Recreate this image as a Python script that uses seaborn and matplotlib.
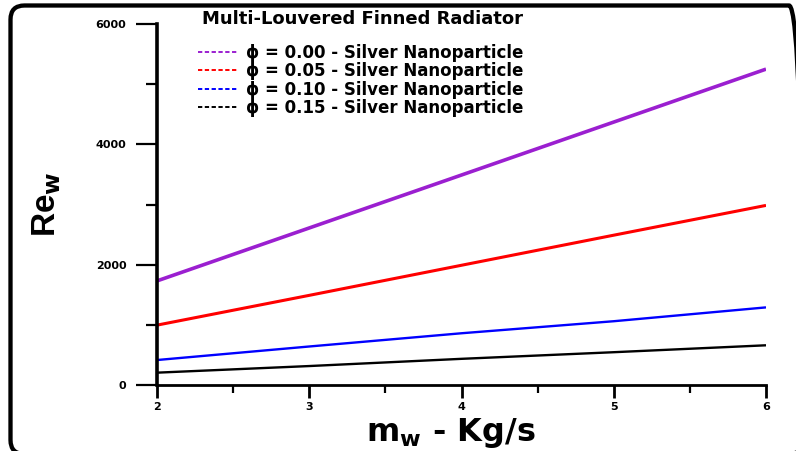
import numpy as np
import pandas as pd
import matplotlib
matplotlib.use("Agg")
import matplotlib.pyplot as plt
import seaborn as sns
from matplotlib.patches import FancyBboxPatch
from matplotlib.ticker import MultipleLocator
from matplotlib.lines import Line2D
from matplotlib.transforms import IdentityTransform

# ---- data ----
mass_flow = [2, 3, 4, 5, 6]
re_phi_000 = [1730, 2610, 3490, 4370, 5250]
re_phi_005 = [995, 1490, 1990, 2490, 2985]
re_phi_010 = [415, 640, 860, 1060, 1290]
re_phi_015 = [205, 315, 435, 545, 660]
series_labels = [
    "\u03d5 = 0.00 - Silver Nanoparticle",
    "\u03d5 = 0.05 - Silver Nanoparticle",
    "\u03d5 = 0.10 - Silver Nanoparticle",
    "\u03d5 = 0.15 - Silver Nanoparticle",
]
series_colors = ["#9b1fd0", "#ff0000", "#0000ff", "#000000"]
line_widths = [2.6, 2.2, 1.7, 1.7]
title_text = "Multi-Louvered Finned Radiator"

df = pd.concat([
    pd.DataFrame({"m": mass_flow, "Re": vals, "series": lab})
    for vals, lab in zip([re_phi_000, re_phi_005, re_phi_010, re_phi_015], series_labels)
])

sns.set_theme(style="white")
plt.rcParams["font.family"] = ["DejaVu Sans"]
plt.rcParams["font.weight"] = "bold"
plt.rcParams["text.color"] = "black"
plt.rcParams["axes.labelcolor"] = "black"
plt.rcParams["xtick.color"] = "black"
plt.rcParams["ytick.color"] = "black"
plt.rcParams["mathtext.fontset"] = "custom"
plt.rcParams["mathtext.rm"] = "DejaVu Sans:bold"
plt.rcParams["mathtext.bf"] = "DejaVu Sans:bold"
plt.rcParams["mathtext.it"] = "DejaVu Sans:bold"

W, H = 796, 451
fig = plt.figure(figsize=(W / 100, H / 100), dpi=100)
ax = fig.add_axes([157 / W, 1 - 385 / H, (766 - 157) / W, (385 - 24) / H])

sns.lineplot(data=df, x="m", y="Re", hue="series", palette=series_colors,
             ax=ax, legend=False, sort=False)
for ln, lw in zip(ax.get_lines(), line_widths):
    ln.set_linewidth(lw)
    ln.set_solid_capstyle("butt")

ax.set_xlim(2, 6)
ax.set_ylim(0, 6000)
ax.xaxis.set_major_locator(MultipleLocator(1))
ax.xaxis.set_minor_locator(MultipleLocator(0.5))
ax.yaxis.set_major_locator(MultipleLocator(2000))
ax.yaxis.set_minor_locator(MultipleLocator(1000))

for s in ["top", "right"]:
    ax.spines[s].set_visible(False)
ax.spines["left"].set_linewidth(2.6)
ax.spines["bottom"].set_linewidth(2.0)
ax.spines["left"].set_color("black")
ax.spines["bottom"].set_color("black")

ax.tick_params(axis="y", which="major", direction="out", length=15, width=1.6,
               labelsize=8, pad=7, left=True, color="black", labelcolor="black")
ax.tick_params(axis="y", which="minor", direction="out", length=8, width=1.6,
               left=True, color="black")
ax.tick_params(axis="x", which="major", direction="out", length=9.5, width=2.0,
               labelsize=8, pad=3, bottom=True, color="black", labelcolor="black")
ax.tick_params(axis="x", which="minor", direction="out", length=5.5, width=1.6,
               bottom=True, color="black")
for lab in ax.get_xticklabels() + ax.get_yticklabels():
    lab.set_fontweight("bold")

ax.set_xlabel(r"m$_{\mathbf{w}}$ - Kg/s", fontsize=23, fontweight="bold",
              color="black")
ax.set_ylabel(r"Re$_{\mathbf{w}}$", fontsize=24, fontweight="bold",
              color="black", family=["Liberation Sans", "DejaVu Sans"])
ax.xaxis.set_label_coords(0.483, -0.086)
ax.yaxis.set_label_coords(-0.155, 0.5)

# legend (proxy dashed handles)
handles = [Line2D([], [], color=c, linestyle=(0, (2.2, 1.3)), linewidth=1.4)
           for c in series_colors]
leg = fig.legend(handles, series_labels, loc="upper left",
                 bbox_to_anchor=(198 / W, 1 - 44 / H), frameon=False,
                 fontsize=12, handlelength=2.4, handletextpad=0.45,
                 labelspacing=0.02, borderpad=0, borderaxespad=0)
for t in leg.get_texts():
    t.set_fontweight("bold")
    t.set_color("black")
fig.text(202 / W, 1 - 19 / H, title_text, fontsize=13, fontweight="bold",
         ha="left", va="center", color="black")

# outer rounded frame in pixel coordinates (right and bottom edges run off the canvas)
left_px, right_px, top_px, bottom_px = 10.5, 803.0, 5.5, 454.0
frame = FancyBboxPatch((left_px, H - bottom_px), right_px - left_px, bottom_px - top_px,
                       boxstyle="round,pad=0,rounding_size=14",
                       transform=IdentityTransform(), fill=False,
                       edgecolor="black", linewidth=3.1, clip_on=False)
fig.patches.append(frame)

fig.savefig("out.png", dpi=100, facecolor="white")
